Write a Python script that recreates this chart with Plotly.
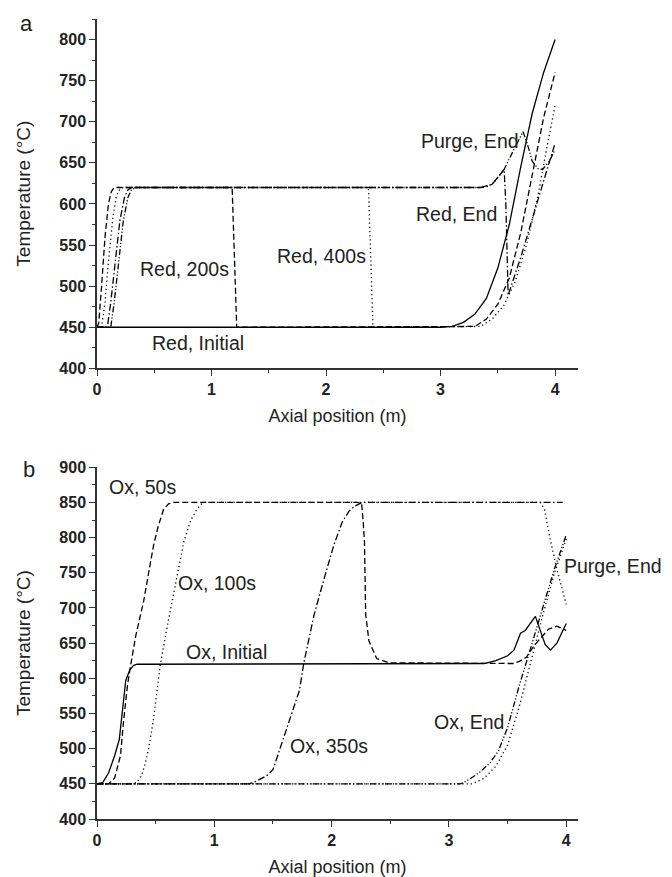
import plotly.graph_objects as go

# ---------------- Panel a : reduction phase ----------------
red_init_x = [0, 3.0, 3.1, 3.2, 3.3, 3.4, 3.5, 3.6, 3.7, 3.8, 3.9, 4.0]
red_init_y = [450, 450, 451, 456, 466, 485, 522, 575, 645, 710, 760, 800]

red_200_x = [0, 0.015, 0.04, 0.07, 0.1, 0.125, 0.15, 1.18, 1.22, 3.3, 3.4, 3.5, 3.6, 3.7, 3.8, 3.9, 4.0]
red_200_y = [450, 455, 500, 560, 600, 615, 620, 620, 450, 451, 460, 478, 510, 565, 635, 705, 760]

red_400_x = [0, 0.04, 0.07, 0.1, 0.14, 0.17, 0.2, 0.23, 2.37, 2.41, 3.35, 3.45, 3.55, 3.65, 3.75, 3.85, 3.93, 4.0]
red_400_y = [450, 450, 480, 530, 585, 610, 618, 620, 620, 450, 451, 460, 476, 505, 550, 610, 670, 720]

red_end_x = [0, 0.09, 0.12, 0.16, 0.2, 0.24, 0.27, 0.3, 3.35, 3.4, 3.45, 3.5, 3.555, 3.57, 3.59, 3.7, 3.8, 3.9, 4.0]
red_end_y = [450, 450, 480, 530, 580, 608, 617, 620, 620, 621, 624, 632, 642, 600, 489, 535, 580, 628, 674]

purge_a_x = [0, 0.12, 0.15, 0.19, 0.23, 0.27, 0.3, 0.34, 3.35, 3.45, 3.5, 3.555, 3.6, 3.65, 3.72, 3.76, 3.8, 3.85, 3.89, 3.95, 4.0]
purge_a_y = [450, 450, 480, 530, 580, 608, 617, 620, 620, 624, 632, 642, 655, 668, 688, 672, 652, 643, 642, 652, 666]

# ---------------- Panel b : oxidation phase ----------------
ox_init_x = [0, 0.05, 0.1, 0.15, 0.19, 0.22, 0.245, 0.28, 0.31, 0.34, 0.4, 3.3, 3.4, 3.5, 3.554, 3.59, 3.61, 3.65, 3.7, 3.737, 3.77, 3.82, 3.865, 3.92, 4.0]
ox_init_y = [450, 452, 466, 490, 513, 560, 597, 612, 618, 620, 620, 621, 625, 632, 640, 655, 664, 668, 680, 688, 672, 648, 640, 650, 678]

ox_50_x = [0, 0.1, 0.15, 0.2, 0.227, 0.26, 0.283, 0.33, 0.397, 0.44, 0.482, 0.52, 0.567, 0.61, 0.652, 2.22, 2.256, 2.27, 2.28, 2.29, 2.318, 2.384, 2.49, 3.55, 3.6, 3.66, 3.72, 3.77, 3.85, 3.92, 4.0]
ox_50_y = [450, 450, 458, 490, 540, 590, 615, 660, 709, 750, 789, 815, 840, 848, 850, 850, 848, 820, 794, 691, 653, 628, 622, 621, 624, 630, 645, 655, 670, 674, 668]

ox_100_x = [0, 0.3, 0.34, 0.38, 0.41, 0.44, 0.48, 0.54, 0.6, 0.65, 0.7, 0.74, 0.8, 0.85, 0.9, 3.78, 3.815, 3.86, 3.92, 4.0]
ox_100_y = [450, 450, 452, 462, 478, 500, 540, 620, 675, 718, 760, 794, 825, 840, 850, 850, 840, 800, 755, 705]

ox_350_x = [0, 1.3, 1.36, 1.45, 1.5, 1.6, 1.726, 1.762, 1.85, 1.945, 2.02, 2.09, 2.15, 2.2, 2.26, 3.97]
ox_350_y = [450, 450, 454, 462, 470, 520, 583, 621, 690, 747, 790, 822, 838, 845, 850, 850]

ox_end_x = [0, 3.1, 3.15, 3.26, 3.35, 3.42, 3.5, 3.6, 3.7, 3.8, 3.9, 4.0]
ox_end_y = [450, 450, 454, 466, 480, 496, 530, 590, 645, 700, 756, 804]

purge_b_x = [0, 3.2, 3.3, 3.4, 3.5, 3.6, 3.7, 3.8, 3.9, 4.0]
purge_b_y = [450, 450, 458, 475, 505, 560, 625, 690, 750, 798]

FONT = "Liberation Sans, Arial, sans-serif"
AX_COL = "#333333"

styles = {
    "solid": "solid",
    "dash": "6px,3px",
    "dot": "1.2px,3px",
    "dashdot": "7px,2.5px,1.5px,2.5px",
    "dashdotdot": "6px,2px,1.2px,2px,1.2px,2px",
}

fig = go.Figure()

def add(x, y, dash, xa, ya, name):
    fig.add_trace(go.Scatter(x=x, y=y, mode="lines", name=name,
                             line=dict(color="black", width=1.3, dash=styles[dash]),
                             xaxis=xa, yaxis=ya, showlegend=False))

add(red_init_x, red_init_y, "solid", "x", "y", "Red, Initial")
add(red_200_x, red_200_y, "dash", "x", "y", "Red, 200s")
add(red_400_x, red_400_y, "dot", "x", "y", "Red, 400s")
add(red_end_x, red_end_y, "dashdot", "x", "y", "Red, End")
add(purge_a_x, purge_a_y, "dashdotdot", "x", "y", "Purge, End")

add(ox_init_x, ox_init_y, "solid", "x2", "y2", "Ox, Initial")
add(ox_50_x, ox_50_y, "dash", "x2", "y2", "Ox, 50s")
add(ox_100_x, ox_100_y, "dot", "x2", "y2", "Ox, 100s")
add(ox_350_x, ox_350_y, "dashdot", "x2", "y2", "Ox, 350s")
add(ox_end_x, ox_end_y, "dashdotdot", "x2", "y2", "Ox, End")
add(purge_b_x, purge_b_y, "dot", "x2", "y2", "Purge, End")

def xaxis(rng, anchor):
    return dict(domain=[0, 1], anchor=anchor, range=rng, dtick=1, tick0=0,
                showline=True, linecolor=AX_COL, linewidth=1.5, mirror=False,
                ticks="outside", ticklen=6, tickwidth=1.3, tickcolor=AX_COL,
                minor=dict(ticks="outside", ticklen=3, tickwidth=1.2, dtick=0.5, tick0=0, tickcolor=AX_COL),
                showgrid=False, zeroline=False,
                tickfont=dict(family=FONT, size=16, color="#222", weight="bold"),
                title=dict(text="Axial position (m)", font=dict(family=FONT, size=18, color="#222"), standoff=12))

def yaxis(rng, dom, anchor):
    return dict(domain=dom, anchor=anchor, range=rng, dtick=50, tick0=0,
                showline=True, linecolor=AX_COL, linewidth=1.5,
                ticks="outside", ticklen=6, tickwidth=1.3, tickcolor=AX_COL,
                minor=dict(ticks="outside", ticklen=3, tickwidth=1.2, dtick=25, tick0=0, tickcolor=AX_COL),
                showgrid=False, zeroline=False,
                tickfont=dict(family=FONT, size=16, color="#222", weight="bold"),
                title=dict(text="Temperature (°C)", font=dict(family=FONT, size=19, color="#222"), standoff=24))

ann_font = dict(family=FONT, size=19.5, color="#222")
annotations = [
    dict(text="Red, 200s", x=0.76, y=521, xref="x", yref="y"),
    dict(text="Red, 400s", x=1.96, y=537, xref="x", yref="y"),
    dict(text="Red, Initial", x=0.88, y=431, xref="x", yref="y"),
    dict(text="Purge, End", x=3.255, y=676, xref="x", yref="y"),
    dict(text="Red, End", x=3.14, y=588, xref="x", yref="y"),
    dict(text="Ox, 50s", x=0.39, y=872, xref="x2", yref="y2"),
    dict(text="Ox, 100s", x=1.02, y=736, xref="x2", yref="y2"),
    dict(text="Ox, Initial", x=1.10, y=637, xref="x2", yref="y2"),
    dict(text="Ox, 350s", x=1.98, y=504, xref="x2", yref="y2"),
    dict(text="Ox, End", x=3.17, y=538, xref="x2", yref="y2"),
    dict(text="Purge, End", x=3.96, y=759, xref="x2", yref="y2", xanchor="left"),
]
for a in annotations:
    a.update(showarrow=False, font=ann_font)
    a.setdefault("xanchor", "center")
    a["yanchor"] = "middle"
annotations.append(dict(text="a", x=-0.146, y=0.995, xref="paper", yref="paper", showarrow=False,
                        xanchor="center", yanchor="middle", font=dict(family=FONT, size=22, color="#222")))
annotations.append(dict(text="b", x=-0.141, y=0.437, xref="paper", yref="paper", showarrow=False,
                        xanchor="center", yanchor="middle", font=dict(family=FONT, size=22, color="#222")))

# page body has a default 8px margin: size/margins compensate so the plot area lands
# at x 97..578, y 11..820 in the 672x877 window
fig.update_layout(
    width=664, height=869,
    margin=dict(l=89, r=94, t=3, b=57),
    paper_bgcolor="white", plot_bgcolor="white",
    showlegend=False,
    xaxis=xaxis([0, 4.2], "y"),
    yaxis=yaxis([400, 825], [0.5633, 1.0], "x"),
    xaxis2=xaxis([0, 4.1], "y2"),
    yaxis2=yaxis([400, 900], [0.0, 0.4397], "x2"),
    annotations=annotations,
)

fig.write_html("out.html")
